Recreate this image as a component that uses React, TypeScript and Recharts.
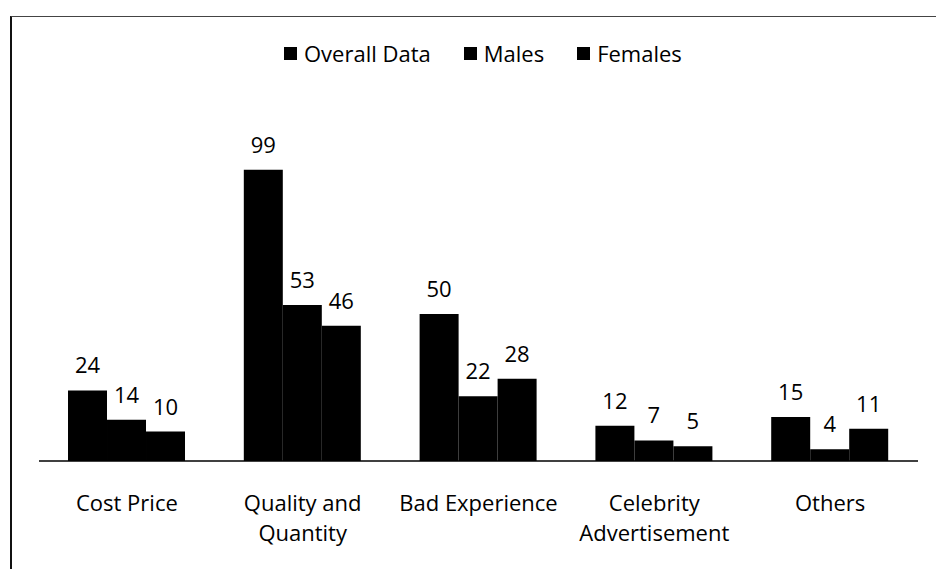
import React from "react";
import { Bar, BarChart, LabelList, XAxis, YAxis } from "recharts";

const categories = [
  "Cost Price",
  "Quality and Quantity",
  "Bad Experience",
  "Celebrity Advertisement",
  "Others",
];
const overallData = [24, 99, 50, 12, 15];
const males = [14, 53, 22, 7, 4];
const females = [10, 46, 28, 5, 11];

const seriesNames = ["Overall Data", "Males", "Females"];

const data = categories.map((name, i) => ({
  name,
  overall: overallData[i],
  males: males[i],
  females: females[i],
}));

const FONT = "'Open Sans', 'DejaVu Sans', sans-serif";

// greedy word wrap so long category names break onto two lines
function wrap(text: string, max: number) {
  const lines: string[] = [];
  let cur = "";
  for (const w of text.split(" ")) {
    const next = cur ? cur + " " + w : w;
    if (next.length > max && cur) {
      lines.push(cur);
      cur = w;
    } else {
      cur = next;
    }
  }
  if (cur) lines.push(cur);
  return lines;
}

function CategoryTick(props: any) {
  const { x, y, payload } = props;
  const lines = wrap(payload.value, 14);
  return (
    <text x={x} y={y + 42} textAnchor="middle" fill="#000" fontSize={22} fontFamily={FONT}>
      {lines.map((l, i) => (
        <tspan key={i} x={x} dy={i === 0 ? 0 : 30}>
          {l}
        </tspan>
      ))}
    </text>
  );
}

// legend sits above the plot without taking space from it
function LegendRow() {
  return (
    <div
      style={{
        position: "absolute",
        left: 284,
        top: 38,
        display: "flex",
        alignItems: "center",
        fontFamily: FONT,
        fontSize: 22,
        color: "#000",
        whiteSpace: "nowrap",
      }}
    >
      {seriesNames.map((s) => (
        <span key={s} style={{ display: "flex", alignItems: "center", marginRight: 33 }}>
          <span style={{ width: 13, height: 13, background: "#000", marginRight: 7 }} />
          {s}
        </span>
      ))}
    </div>
  );
}

export default function App() {
  return (
    <div style={{ position: "absolute", left: 0, top: 0, width: 936, height: 569, background: "#fff" }}>
      <div
        style={{
          position: "absolute",
          left: 10,
          top: 16,
          width: 926,
          height: 553,
          borderTop: "1px solid #444",
          borderLeft: "2px solid #111",
          boxSizing: "border-box",
        }}
      />
      <BarChart
        width={936}
        height={569}
        data={data}
        margin={{ top: 108, right: 18, bottom: 0, left: 39 }}
        barCategoryGap="16.5%"
        barGap={0}
      >
        <XAxis
          dataKey="name"
          height={108}
          axisLine={{ stroke: "#000", strokeWidth: 1.5 }}
          tickLine={false}
          tick={<CategoryTick />}
          interval={0}
        />
        <YAxis hide domain={[0, 120]} />
        <Bar dataKey="overall" name={seriesNames[0]} fill="#000" isAnimationActive={false}>
          <LabelList dataKey="overall" position="top" offset={17} fill="#000" fontSize={22} fontFamily={FONT} />
        </Bar>
        <Bar dataKey="males" name={seriesNames[1]} fill="#000" isAnimationActive={false}>
          <LabelList dataKey="males" position="top" offset={17} fill="#000" fontSize={22} fontFamily={FONT} />
        </Bar>
        <Bar dataKey="females" name={seriesNames[2]} fill="#000" isAnimationActive={false}>
          <LabelList dataKey="females" position="top" offset={17} fill="#000" fontSize={22} fontFamily={FONT} />
        </Bar>
      </BarChart>
      <LegendRow />
    </div>
  );
}
